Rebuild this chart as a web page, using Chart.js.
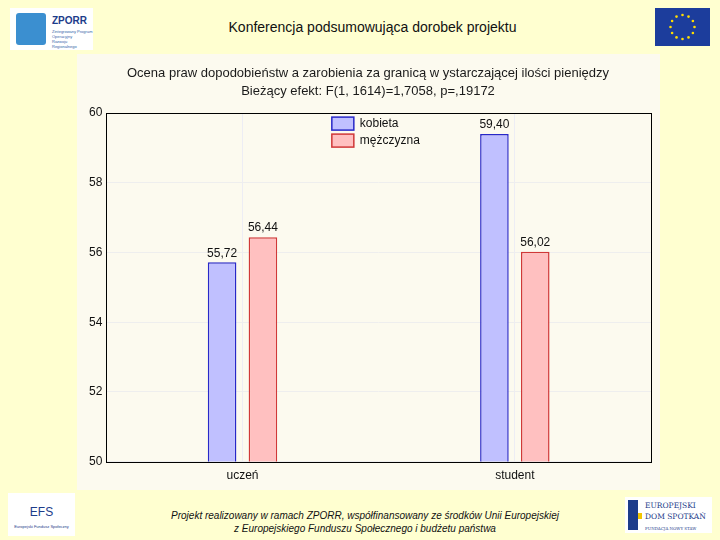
<!DOCTYPE html>
<html>
<head>
<meta charset="utf-8">
<script src="https://cdn.jsdelivr.net/npm/chart.js@4/dist/chart.umd.min.js"></script>
<style>
  body { margin: 0; width: 720px; height: 540px; background: #FFFFD0; font-family: "Liberation Sans", Arial, sans-serif; position: relative; overflow: hidden; }
  .header { position: absolute; left: 130px; width: 485px; top: 19px; text-align: center; font-size: 14px; color: #111; }
  .footer { position: absolute; left: 110px; width: 510px; top: 509px; text-align: center; font-size: 10px; font-style: italic; color: #111; line-height: 13px; }
  .chartBox { position: absolute; left: 77px; top: 54px; width: 583px; height: 436px; background: #FCFAEF; }
  .logo { position: absolute; background: #fff; }
  .zporr { left: 10px; top: 8px; width: 83px; height: 42px; }
  .zporr .puzzle { position: absolute; left: 6px; top: 5px; width: 30px; height: 32px; background: #3B8FD0; border-radius: 3px; }
  .zporr .t { position: absolute; left: 42px; top: 7px; font-size: 10px; font-weight: bold; color: #1D3C8A; }
  .zporr .s { position: absolute; left: 42px; top: 21px; font-size: 4px; color: #3366aa; line-height: 5px; }
  .flag { position: absolute; left: 655px; top: 8px; width: 55px; height: 38px; background: #1C3D9C; }
  .efs { left: 8px; top: 493px; width: 67px; height: 43px; }
  .efs .t { position: absolute; left: 0; width: 67px; top: 12px; text-align: center; font-size: 12px; color: #1D3C8A; }
  .efs .s { position: absolute; left: 0; width: 67px; top: 31px; text-align: center; font-size: 4px; color: #1D3C8A; }
  .eds { left: 625px; top: 497px; width: 87px; height: 36px; }
  .eds .b { position: absolute; left: 3px; top: 3px; width: 10px; height: 30px; background: #1D3C8A; }
  .eds .y { position: absolute; left: 13px; top: 16px; width: 4px; height: 6px; background: #F2C500; }
  .eds .t { position: absolute; left: 20px; top: 3px; font-size: 7.5px; color: #1D3C8A; line-height: 11px; font-family: "DejaVu Serif", serif; }
</style>
</head>
<body>
<div class="logo zporr"><div class="puzzle"></div><div class="t">ZPORR</div><div class="s">Zintegrowany Program<br>Operacyjny<br>Rozwoju Regionalnego</div></div>
<div class="header">Konferencja podsumowująca dorobek projektu</div>
<div class="flag">
  <svg width="55" height="38">
    <g fill="#FFDD00" id="stars"></g>
  </svg>
</div>
<div class="chartBox"><canvas id="myChart" width="583" height="436"></canvas></div>
<div class="logo efs"><div class="t">EFS</div><div class="s">Europejski Fundusz Społeczny</div></div>
<div class="footer">Projekt realizowany w ramach ZPORR, współfinansowany ze środków Unii Europejskiej<br>z Europejskiego Funduszu Społecznego i budżetu państwa</div>
<div class="logo eds"><div class="b"></div><div class="y"></div><div class="t">EUROPEJSKI<br>DOM SPOTKAŃ<br><span style="font-size:4px">FUNDACJA NOWY STAW</span></div></div>

<script>
// data
const categories = ["uczeń", "student"];
const kobieta = [55.72, 59.40];
const mezczyzna = [56.44, 56.02];
const seriesNames = ["kobieta", "mężczyzna"];
const titleLines = [
    "Ocena praw dopodobieństw a zarobienia za granicą w ystarczającej ilości pieniędzy",
    "Bieżący efekt: F(1, 1614)=1,7058, p=,19172"
];
const yMin = 50, yMax = 60, yStep = 2;

// eu flag stars
const starsGroup = document.getElementById("stars");
for (let i = 0; i < 12; i++) {
    let a = i * Math.PI / 6;
    let c = document.createElementNS("http://www.w3.org/2000/svg", "circle");
    c.setAttribute("cx", 27.5 + Math.cos(a) * 12);
    c.setAttribute("cy", 19 + Math.sin(a) * 12);
    c.setAttribute("r", 1.3);
    starsGroup.appendChild(c);
}

const fontFam = '"Liberation Sans", Arial, sans-serif';

const extras = {
    id: "extras",
    afterDatasetsDraw(chart) {
        const ctx = chart.ctx;
        const area = chart.chartArea;
        ctx.save();
        // value labels
        ctx.font = "12px " + fontFam;
        ctx.fillStyle = "#111";
        ctx.textAlign = "center";
        ctx.textBaseline = "bottom";
        chart.data.datasets.forEach((ds, i) => {
            chart.getDatasetMeta(i).data.forEach((bar, j) => {
                ctx.fillText(ds.data[j].toFixed(2).replace(".", ","), bar.x, bar.y - 3);
            });
        });
        // plot frame
        ctx.strokeStyle = "#000";
        ctx.lineWidth = 1;
        ctx.strokeRect(Math.round(area.left) + 0.5, Math.round(area.top) + 0.5,
            Math.round(area.right - area.left), Math.round(area.bottom - area.top));
        // legend inside plot
        let lx = area.left + (area.right - area.left) * 0.414;
        let ly = area.top + 4;
        ctx.textAlign = "left";
        ctx.textBaseline = "middle";
        ctx.font = "12px " + fontFam;
        chart.data.datasets.forEach((ds, i) => {
            let y = ly + i * 17;
            ctx.fillStyle = ds.backgroundColor;
            ctx.fillRect(lx, y, 22, 13);
            ctx.strokeStyle = ds.borderColor;
            ctx.lineWidth = 1.5;
            ctx.strokeRect(lx, y, 22, 13);
            ctx.fillStyle = "#111";
            ctx.fillText(ds.label, lx + 28, y + 7);
        });
        ctx.restore();
    }
};

const ctx = document.getElementById("myChart");
new Chart(ctx, {
    type: "bar",
    data: {
        labels: categories,
        datasets: [
            { label: seriesNames[0], data: kobieta, backgroundColor: "#C0C0FF", borderColor: "#2828C8", borderWidth: 1.5 },
            { label: seriesNames[1], data: mezczyzna, backgroundColor: "#FFC0C0", borderColor: "#D03838", borderWidth: 1.5 }
        ]
    },
    options: {
        responsive: false,
        animation: false,
        categoryPercentage: 0.30,
        barPercentage: 0.70,
        layout: { padding: { left: 8, right: 9, top: 0, bottom: 0 } },
        plugins: {
            legend: { display: false },
            tooltip: { enabled: false },
            title: {
                display: true,
                text: titleLines,
                color: "#1a1a1a",
                font: { family: fontFam, size: 13, weight: "normal", lineHeight: 1.35 },
                padding: { top: 11, bottom: 13 }
            }
        },
        scales: {
            x: {
                grid: { offset: false, color: "#EDEDF4", drawTicks: false },
                border: { display: false },
                ticks: { color: "#111", font: { family: fontFam, size: 12 }, padding: 7 }
            },
            y: {
                min: yMin,
                max: yMax,
                ticks: { stepSize: yStep, color: "#111", font: { family: fontFam, size: 12 }, padding: 4 },
                grid: { color: "#EEEEEE", drawTicks: false },
                border: { display: false }
            }
        }
    },
    plugins: [extras]
});
</script>
</body>
</html>
